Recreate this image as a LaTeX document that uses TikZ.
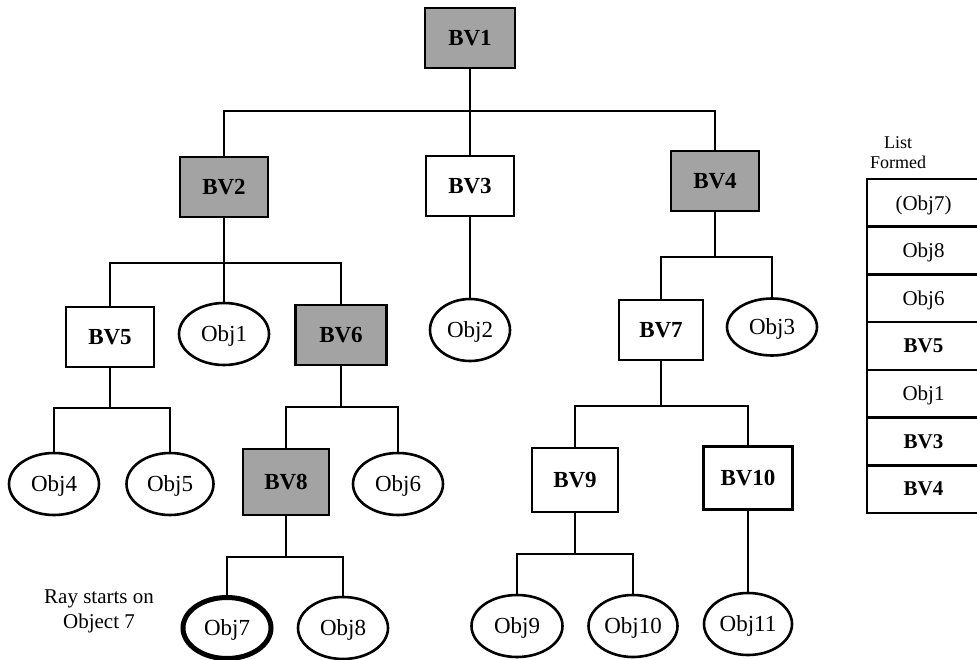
\documentclass[tikz,border=0pt]{standalone}
\usepackage{fontspec}
\setmainfont{Liberation Serif}
\usetikzlibrary{shapes.geometric}
\definecolor{boxgray}{RGB}{163,163,163}
\tikzset{
  conn/.style={line width=2.9pt, line cap=rect},
  bvbox/.style={draw, line width=2.9pt, rectangle, minimum width=88pt, minimum height=60pt, inner sep=0pt, font=\fontsize{23}{26}\selectfont\bfseries, fill=white},
  hit/.style={bvbox, fill=boxgray},
  objell/.style={draw, line width=2.6pt, ellipse, minimum width=90pt, minimum height=62pt, inner sep=0pt, text depth=0pt, font=\fontsize{23}{26}\selectfont, fill=white},
  start/.style={objell, line width=5pt},
  cell/.style={draw, line width=2.6pt, rectangle, minimum width=113pt, minimum height=47.7pt, inner sep=0pt, text depth=0pt, font=\fontsize{21}{24}\selectfont},
  bvcell/.style={cell, font=\fontsize{21}{24}\selectfont\bfseries},
  note/.style={align=center, inner sep=0pt}
}
\begin{document}
\begin{tikzpicture}[x=1pt,y=-1pt]
\useasboundingbox (0,0) rectangle (977,660);
% junction coordinates
\coordinate (j1) at (470,111);
\coordinate (j2) at (224,263);
\coordinate (j3) at (341,407);
\coordinate (j4) at (110,408);
\coordinate (j5) at (286,557);
\coordinate (j6) at (715,257);
\coordinate (j7) at (661,406);
\coordinate (j8) at (575,554);
% nodes
\node[hit, minimum width=90pt] (bv1) at (470,38) {BV1};
\node[hit] (bv2) at (224,187) {BV2};
\node[bvbox] (bv3) at (470,186) {BV3};
\node[hit] (bv4) at (715,181) {BV4};
\node[bvbox] (bv5) at (110,337) {BV5};
\node[objell] (obj1) at (224,334) {Obj1};
\node[hit, minimum width=91pt] (bv6) at (341,335) {BV6};
\node[objell, minimum width=80pt] (obj2) at (470,330) {Obj2};
\node[bvbox, minimum width=84pt] (bv7) at (661,330) {BV7};
\node[objell, minimum height=57pt] (obj3) at (772,327) {Obj3};
\node[objell] (obj4) at (54,484) {Obj4};
\node[objell, minimum width=87pt] (obj5) at (170,484) {Obj5};
\node[hit, minimum width=86pt, minimum height=66pt] (bv8) at (286,482) {BV8};
\node[objell] (obj6) at (398,484) {Obj6};
\node[bvbox, minimum width=86pt, minimum height=64pt] (bv9) at (575,480) {BV9};
\node[bvbox, minimum width=89pt, minimum height=63pt] (bv10) at (748,478) {BV10};
\node[start, minimum width=88pt, minimum height=61pt] (obj7) at (227,628) {Obj7};
\node[objell] (obj8) at (343,628) {Obj8};
\node[objell, minimum width=91pt] (obj9) at (517,626) {Obj9};
\node[objell, minimum width=89pt] (obj10) at (633,626) {Obj10};
\node[objell, minimum width=88pt] (obj11) at (748,624) {Obj11};
% connectors
\begin{scope}[conn]
\draw (bv1.south) -- (bv3.north);
\draw (bv2.north) |- (j1) -| (bv4.north);
\draw (bv2.south) -- (j2);
\draw (bv5.north) |- (j2) -| (bv6.north);
\draw (j2) -- (obj1.north);
\draw (bv3.south) -- (obj2.north);
\draw (bv6.south) -- (j3);
\draw (bv8.north) |- (j3) -| (obj6.north);
\draw (bv5.south) -- (j4);
\draw (obj4.north) |- (j4) -| (obj5.north);
\draw (bv8.south) -- (j5);
\draw (obj7.north) |- (j5) -| (obj8.north);
\draw (bv4.south) -- (j6);
\draw (bv7.north) |- (j6) -| (obj3.north);
\draw (bv7.south) -- (j7);
\draw (bv9.north) |- (j7) -| (bv10.north);
\draw (bv9.south) -- (j8);
\draw (obj9.north) |- (j8) -| (obj10.north);
\draw (bv10.south) -- (obj11.north);
\end{scope}
% labels
\node[note, font=\fontsize{21}{25}\selectfont] (ray) at (99,611) {Ray starts on\\Object 7};
\node[note, font=\fontsize{18}{20}\selectfont] (lf) at (898,153) {List\\Formed};
% list table
\node[cell] (l1) at (923.5,202.85) {(Obj7)};
\node[cell] (l2) at (923.5,250.55) {Obj8};
\node[cell] (l3) at (923.5,298.25) {Obj6};
\node[bvcell] (l4) at (923.5,345.95) {BV5};
\node[cell] (l5) at (923.5,393.65) {Obj1};
\node[bvcell] (l6) at (923.5,441.35) {BV3};
\node[bvcell] (l7) at (923.5,489.05) {BV4};
\end{tikzpicture}
\end{document}
